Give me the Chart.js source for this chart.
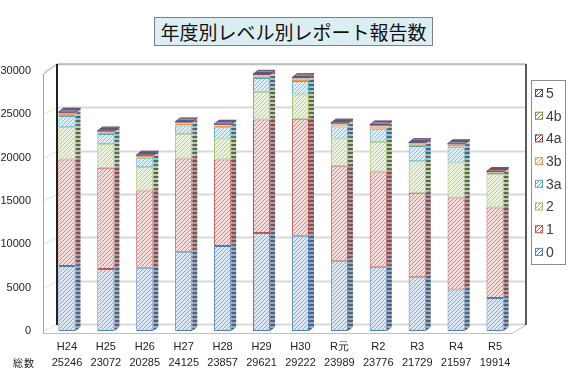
<!DOCTYPE html>
<html>
<head>
<meta charset="utf-8">
<script src="https://cdn.jsdelivr.net/npm/chart.js@4.4.1/dist/chart.umd.min.js"></script>
<style>
  html, body { margin: 0; padding: 0; background: #fff; }
  #wrap { position: relative; width: 571px; height: 373px; }
  #title {
    position: absolute; left: 154px; top: 17px; width: 277px; height: 27px;
    background: #dbeef4; border: 1px solid #7f7f7f;
    font: 19px "Noto Sans CJK JP", sans-serif; color: #111;
    text-align: center; line-height: 27px; z-index: 2;
  }
</style>
</head>
<body>
<div id="wrap">
  <div id="title">年度別レベル別レポート報告数</div>
  <canvas id="c" width="571" height="373"></canvas>
</div>
<script>
// --- DATA ---
const cats   = ['H24','H25','H26','H27','H28','H29','H30','R元','R2','R3','R4','R5'];
const totals = ['25246','23072','20285','24125','23857','29621','29222','23989','23776','21729','21597','19914'];
const lv0  = [7500, 7150, 7300, 9100, 9800, 11300, 11000, 8100, 7400, 6200, 4800, 3800];
const lv1  = [12300, 11700, 8900, 10800, 10000, 13100, 13500, 10900, 11000, 9750, 10600, 10450];
const lv2  = [3700, 2700, 2700, 2800, 2400, 3200, 2800, 3200, 3450, 3650, 4050, 3850];
const lv3a = [1300, 1180, 1100, 1000, 1300, 1600, 1550, 1400, 1500, 1750, 1800, 200];
const lv3b = [250, 200, 180, 250, 200, 250, 250, 250, 250, 250, 200, 30];
const lv4a = [50, 40, 30, 50, 50, 50, 40, 50, 50, 40, 50, 60];
const lv4b = [50, 40, 30, 50, 40, 50, 30, 40, 50, 40, 40, 0];
const lv5  = [96, 62, 45, 75, 67, 71, 52, 49, 76, 49, 57, 0];
const yTicks = [0, 5000, 10000, 15000, 20000, 25000, 30000];

// --- STYLE PER LEVEL: line colour, light background ---
const levels = [
  { label: '0',  data: lv0,  c: '#4f81bd', bg: '#dde7f3' },
  { label: '1',  data: lv1,  c: '#c0504d', bg: '#f4dcdb' },
  { label: '2',  data: lv2,  c: '#9bbb59', bg: '#eaf1dc' },
  { label: '3a', data: lv3a, c: '#4bacc6', bg: '#daeef4' },
  { label: '3b', data: lv3b, c: '#f79646', bg: '#fde5d2' },
  { label: '4a', data: lv4a, c: '#943634', bg: '#e8c4c3' },
  { label: '4b', data: lv4b, c: '#76923c', bg: '#dde7c8' },
  { label: '5',  data: lv5,  c: '#5f497a', bg: '#cfc6da' }
];

const hatch = (line, bg, horiz) => {
  const cv = document.createElement('canvas'); cv.width = cv.height = 4;
  const g = cv.getContext('2d');
  g.fillStyle = bg; g.fillRect(0, 0, 4, 4);
  g.fillStyle = line;
  if (horiz) g.fillRect(0, 0, 4, 2);
  else for (let i = 0; i < 4; i++) g.fillRect(i, 3 - i, 1, 1);
  return g.createPattern(cv, 'repeat');
};
const ctx0 = document.getElementById('c').getContext('2d');
levels.forEach(l => {
  l.front = hatch(l.c + '99', l.bg, false);
  l.side = hatch('#5a5f68', l.c + 'aa', true);
});

const DX = 5, DY = 4;       // bar depth
const WX = 14, WY = 7;      // wall depth

// walls, floor and gridlines behind the bars
const wallsPlugin = {
  id: 'walls',
  beforeDatasetsDraw(chart) {
    const ctx = chart.ctx, y = chart.scales.y, a = chart.chartArea;
    const fl = a.left - 4.5, fr = a.right - 2.5;
    const bl = fl + WX, br = fr + WX;
    ctx.save();
    ctx.lineWidth = 1;
    // back gridlines + left wall lines
    yTicks.forEach(v => {
      const py = Math.round(y.getPixelForValue(v)) + 0.5;
      ctx.strokeStyle = '#d9d9d9'; ctx.lineWidth = 2;
      ctx.beginPath(); ctx.moveTo(bl, py - WY); ctx.lineTo(br, py - WY); ctx.stroke();
      ctx.lineWidth = 1; ctx.strokeStyle = '#e2e2e2';
      ctx.beginPath(); ctx.moveTo(fl, py); ctx.lineTo(bl, py - WY); ctx.stroke();
    });
    const top = y.getPixelForValue(30000), bot = y.getPixelForValue(0) + 2;
    ctx.strokeStyle = '#a6a6a6'; ctx.lineWidth = 1;
    ctx.beginPath();
    ctx.moveTo(fl + 0.5, bot); ctx.lineTo(fl + 0.5, top + 3); ctx.lineTo(bl, top - WY);
    ctx.lineTo(br, top - WY);
    ctx.stroke();
    // floor
    ctx.strokeStyle = '#bfbfbf';
    ctx.beginPath();
    ctx.moveTo(fl, bot + 0.5); ctx.lineTo(fr, bot + 0.5); ctx.lineTo(br, bot - WY - 1);
    ctx.stroke();
    // dark back edges
    ctx.strokeStyle = '#222'; ctx.lineWidth = 2;
    ctx.beginPath(); ctx.moveTo(bl, top - WY); ctx.lineTo(bl, bot - WY - 1); ctx.stroke();
    ctx.strokeStyle = '#595959';
    ctx.beginPath(); ctx.moveTo(br, top - WY); ctx.lineTo(br, bot - WY - 1); ctx.stroke();
    ctx.restore();
  },
  afterDatasetsDraw(chart) {
    const ctx = chart.ctx;
    ctx.save();
    const n = cats.length;
    for (let i = 0; i < n; i++) {
      let topDs = -1;
      chart.data.datasets.forEach((ds, di) => {
        const el = chart.getDatasetMeta(di).data[i];
        if (!el || ds.data[i] <= 0) return;
        topDs = di;
        const r = el.x + el.width / 2, t = el.y, b = el.base;
        ctx.fillStyle = levels[di].side;
        ctx.beginPath();
        ctx.moveTo(r, t); ctx.lineTo(r + DX, t - DY); ctx.lineTo(r + DX, b - DY); ctx.lineTo(r, b);
        ctx.closePath(); ctx.fill();
      });
      if (topDs >= 0) {
        const el = chart.getDatasetMeta(topDs).data[i];
        const l = el.x - el.width / 2, r = el.x + el.width / 2, t = el.y;
        ctx.fillStyle = levels[topDs].side;
        ctx.strokeStyle = levels[topDs].c;
        ctx.lineWidth = 1;
        ctx.beginPath();
        ctx.moveTo(l, t); ctx.lineTo(l + DX, t - DY); ctx.lineTo(r + DX, t - DY); ctx.lineTo(r, t);
        ctx.closePath(); ctx.fill(); ctx.stroke();
      }
    }
    ctx.restore();
  },
  afterDraw(chart) {
    const ctx = chart.ctx;
    ctx.save();
    // 総数
    ctx.fillStyle = '#222';
    ctx.font = '10px "Noto Sans CJK JP", sans-serif';
    ctx.textBaseline = 'middle'; ctx.textAlign = 'left';
    ctx.fillText('総', 13, 363); ctx.fillText('数', 24, 363);
    // legend box
    ctx.strokeStyle = '#8c8c8c'; ctx.lineWidth = 1;
    ctx.strokeRect(531.5, 80.5, 34, 184);
    ctx.font = '14px "Liberation Sans", sans-serif';
    const order = levels.slice().reverse();
    order.forEach((l, k) => {
      const cy = 93 + k * 22.7;
      ctx.fillStyle = hatch(l.c, '#ffffff', false);
      ctx.fillRect(535.5, cy - 3.5, 7, 7);
      ctx.strokeStyle = l.c;
      ctx.strokeRect(535.5, cy - 3.5, 7, 7);
      ctx.fillStyle = '#404040';
      ctx.fillText(l.label, 546, cy + 1);
    });
    ctx.restore();
  }
};

new Chart(ctx0, {
  type: 'bar',
  data: {
    labels: cats.map((c, i) => [c, totals[i]]),
    datasets: levels.map(l => ({
      label: l.label, data: l.data,
      backgroundColor: l.front, borderColor: l.c, borderWidth: 1, borderSkipped: false,
      categoryPercentage: 1, barPercentage: 0.44
    }))
  },
  options: {
    responsive: false, animation: false,
    layout: { padding: { top: 71, right: 56.5, bottom: 0, left: 0 } },
    plugins: { legend: { display: false }, tooltip: { enabled: false } },
    scales: {
      x: {
        stacked: true,
        grid: { display: false, drawTicks: false }, border: { display: false },
        ticks: { color: '#222', padding: 8, maxRotation: 0, autoSkip: false,
                 font: { family: 'Liberation Sans', size: 11, lineHeight: 1.45 } },
        afterFit: s => { s.height = 42; }
      },
      y: {
        stacked: true, min: 0, max: 30000,
        grid: { display: false, drawTicks: false }, border: { display: false },
        ticks: { stepSize: 5000, color: '#222', padding: 16.5,
                 callback: v => String(v),
                 font: { family: 'Liberation Sans', size: 11 } },
        afterFit: s => { s.width = 47.5; }
      }
    }
  },
  plugins: [wallsPlugin]
});
</script>
</body>
</html>
